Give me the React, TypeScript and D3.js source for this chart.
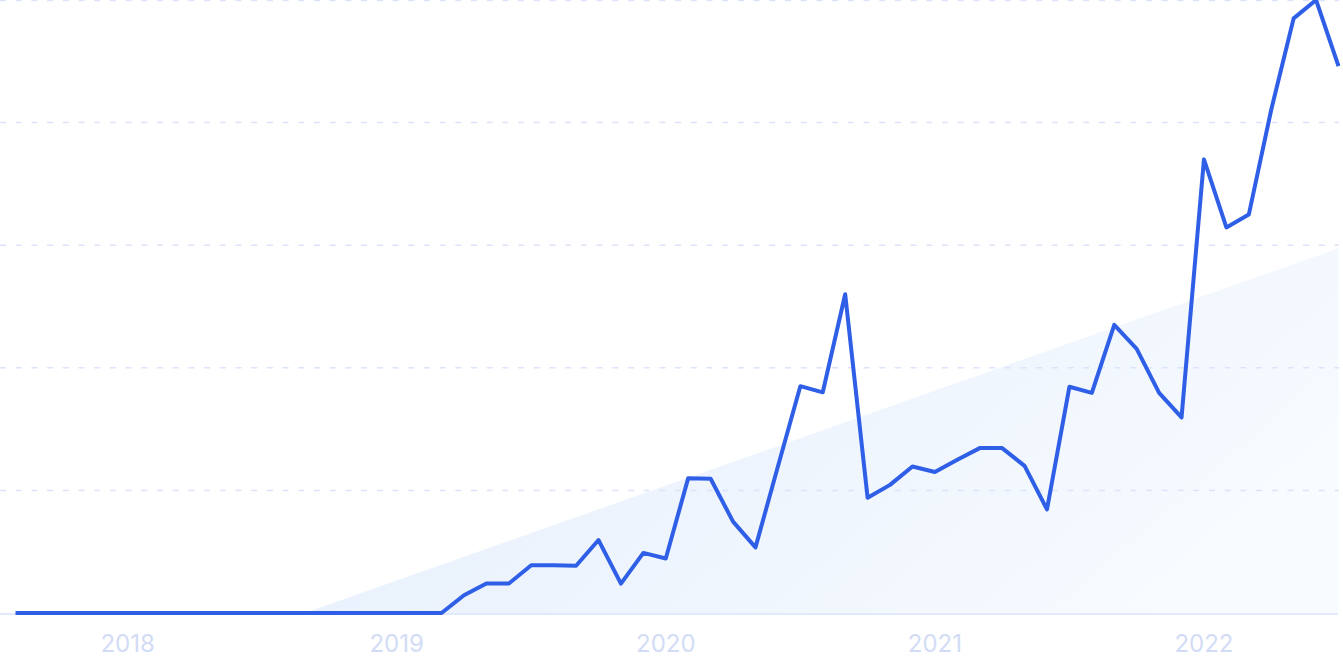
import React from "react";
import * as d3 from "d3";

// Monthly series, Aug 2017 .. Jul 2022 (60 months)
const months: string[] = d3
  .timeMonths(new Date(2017, 7, 1), new Date(2022, 7, 1))
  .map((d) => d3.timeFormat("%Y-%m")(d));

const values: number[] = [
  0, 0, 0, 0, 0, 0, 0, 0, 0, 0,
  0, 0, 0, 0, 0, 0, 0, 0, 0, 0,
  2.9, 4.8, 4.8, 7.8, 7.8, 7.7, 11.9, 4.8, 9.8, 8.9,
  22.0, 21.9, 14.9, 10.7, 23.9, 37.0, 36.0, 52.0, 18.8, 20.9,
  23.9, 23.0, 25.0, 26.9, 26.9, 24.0, 16.9, 36.9, 35.9, 47.0,
  43.1, 35.9, 31.9, 74.0, 62.9, 65.0, 82.1, 97.0, 100, 89.2,
];

const yearLabels: string[] = ["2018", "2019", "2020", "2021", "2022"];
const gridValues: number[] = [20, 40, 60, 80, 100];

// Trend line (in data units): index -> value
const trendIndex: number[] = [12.9, 59];
const trendValue: number[] = [0, 59.5];

const W = 1343;
const H = 671;

export default function App() {
  const x = d3.scaleLinear().domain([0, values.length - 1]).range([15.5, 1338.5]);
  const y = d3.scaleLinear().domain([0, 100]).range([613, 0]);

  const line = d3
    .line<number>()
    .x((_, i) => x(i))
    .y((d) => y(d));

  const trendPts: [number, number][] = [
    [x(trendIndex[0]), y(trendValue[0])],
    [x(trendIndex[1]), y(trendValue[1])],
    [x(trendIndex[1]), y(0)],
  ];
  const trendPath = "M" + trendPts.map((p) => p.join(",")).join("L") + "Z";

  const labelIdx = yearLabels.map((yr) => months.indexOf(yr + "-01"));

  return (
    <div style={{ position: "fixed", left: 0, top: 0, width: W, height: H, background: "#fff" }}>
      <svg width={W} height={H} style={{ display: "block" }}>
        <defs>
          <linearGradient id="trendGrad" x1="0" y1="0.2" x2="1" y2="0.6">
            <stop offset="0%" stopColor="#e4eefc" />
            <stop offset="100%" stopColor="#f8fbff" />
          </linearGradient>
        </defs>
        <path d={trendPath} fill="url(#trendGrad)" />
        {gridValues.map((g) => (
          <line
            key={g}
            x1={0}
            x2={1339}
            y1={y(g) + (g === 100 ? 0.5 : 0)}
            y2={y(g) + (g === 100 ? 0.5 : 0)}
            stroke="#dce4fb"
            strokeWidth={1.5}
            strokeDasharray="6,9.7"
          />
        ))}
        <line x1={0} x2={1338} y1={614} y2={614} stroke="#d8e2f8" strokeWidth={1.5} />
        <path
          d={line(values) || ""}
          fill="none"
          stroke="#2f5fe6"
          strokeWidth={4}
          strokeLinejoin="round"
          strokeLinecap="butt"
        />
        {yearLabels.map((lab, k) => (
          <text
            key={lab}
            x={x(labelIdx[k])}
            y={652}
            textAnchor="middle"
            fontFamily="Inter, 'Liberation Sans', Arial, sans-serif"
            fontSize={24}
            fill="#d3dcf6"
          >
            {lab}
          </text>
        ))}
      </svg>
    </div>
  );
}
